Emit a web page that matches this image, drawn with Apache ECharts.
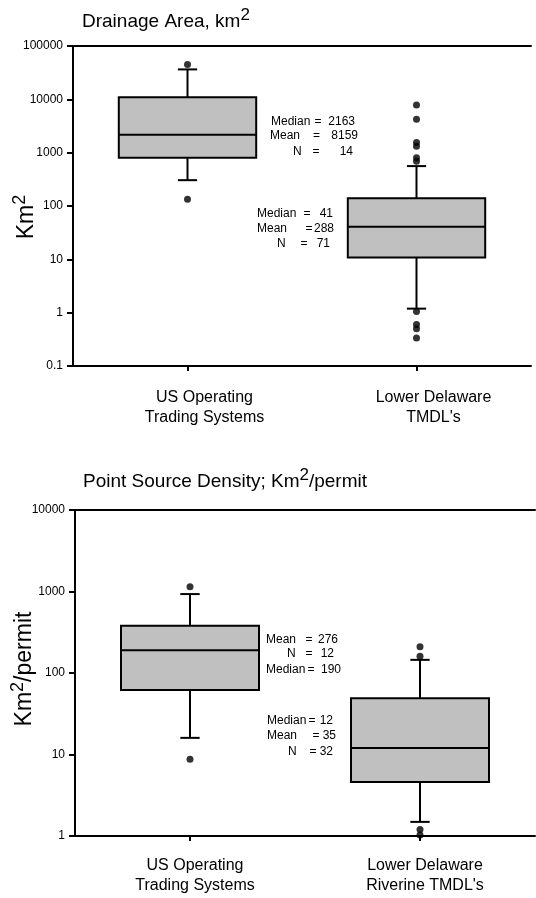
<!DOCTYPE html>
<html><head><meta charset="utf-8">
<script src="https://cdn.jsdelivr.net/npm/echarts@6/dist/echarts.min.js"></script>
<style>html,body{margin:0;padding:0;background:#fff}#c{width:536px;height:898px}</style>
</head><body><div id="c"></div>
<script>
// ---------- data ----------
const categoriesTop = ['US Operating\nTrading Systems', "Lower Delaware\nTMDL's"];
const categoriesBottom = ['US Operating\nTrading Systems', "Lower Delaware\nRiverine TMDL's"];
// box rows: [lower whisker, Q1, median, Q3, upper whisker]
const drainageUS = [305, 800, 2163, 11000, 36400];
const drainageDE = [1.19, 10.8, 41, 140, 560];
const drainageOutliersUS = [45000, 134];
const drainageOutliersDE = [7800, 4250, 1550, 1320, 800, 690, 1.05, 0.6, 0.5, 0.335];
const densityUS = [16, 62, 190, 380, 930];
const densityDE = [1.49, 4.6, 12, 49, 145];
const densityOutliersUS = [1145, 8.75];
const densityOutliersDE = [210, 160, 1.2, 1.03];
const drainageTicks = ['0.1', '1', '10', '100', '1000', '10000', '100000'];
const densityTicks = ['1', '10', '100', '1000', '10000'];
const drainageStatsUS = [['Median', '2163'], ['Mean', '8159'], ['N', '14']];
const drainageStatsDE = [['Median', '41'], ['Mean', '288'], ['N', '71']];
const densityStatsUS = [['Mean', '276'], ['N', '12'], ['Median', '190']];
const densityStatsDE = [['Median', '12'], ['Mean', '35'], ['N', '32']];

// ---------- layout ----------
const FONT = '"Liberation Sans", Arial, sans-serif';
const statLayout = [
  [{lx: 271, ex: 318, vx: 355, y: 122}, {lx: 270, ex: 316.5, vx: 358, y: 136}, {lx: 293, ex: 316, vx: 353, y: 151.5}],
  [{lx: 257, ex: 307, vx: 333, y: 213.5}, {lx: 257, ex: 309, vx: 334, y: 229}, {lx: 277, ex: 304, vx: 330, y: 244}],
  [{lx: 266, ex: 309, vx: 338, y: 639.5}, {lx: 287, ex: 309, vx: 334, y: 653.5}, {lx: 266, ex: 311, vx: 341, y: 669.5}],
  [{lx: 267, ex: 312, vx: 333, y: 721}, {lx: 267, ex: 316, vx: 336, y: 735.5}, {lx: 288, ex: 313, vx: 333, y: 752}]
];

function boxRow(idx, arr) { return [idx].concat(arr); }

function renderBox(params, api) {
  const cat = api.value(0);
  const lo = api.value(1), q1 = api.value(2), med = api.value(3), q3 = api.value(4), hi = api.value(5);
  const band = api.coord([1, med])[0] - api.coord([0, med])[0];
  const cx = api.coord([cat, med])[0];
  const bw = band * 0.6, cap = band * 0.084;
  const yLo = api.coord([cat, lo])[1], yQ1 = api.coord([cat, q1])[1], yMed = api.coord([cat, med])[1];
  const yQ3 = api.coord([cat, q3])[1], yHi = api.coord([cat, hi])[1];
  const ls = {stroke: '#000', lineWidth: 2};
  return {
    type: 'group',
    children: [
      {type: 'line', shape: {x1: cx, y1: yQ1, x2: cx, y2: yLo}, style: ls},
      {type: 'line', shape: {x1: cx - cap / 2, y1: yLo, x2: cx + cap / 2, y2: yLo}, style: ls},
      {type: 'line', shape: {x1: cx, y1: yQ3, x2: cx, y2: yHi}, style: ls},
      {type: 'line', shape: {x1: cx - cap / 2, y1: yHi, x2: cx + cap / 2, y2: yHi}, style: ls},
      {type: 'rect', shape: {x: cx - bw / 2, y: yQ3, width: bw, height: yQ1 - yQ3},
        style: {fill: '#c0c0c0', stroke: '#000', lineWidth: 2}},
      {type: 'line', shape: {x1: cx - bw / 2, y1: yMed, x2: cx + bw / 2, y2: yMed}, style: ls}
    ]
  };
}

function outlierData(idx, arr) { return arr.map(v => [idx, v]); }

function statGraphics(stats, layout) {
  const out = [];
  stats.forEach((s, i) => {
    const L = layout[i];
    const base = {font: '12px ' + FONT, fill: '#000', verticalAlign: 'middle'};
    out.push({type: 'text', style: Object.assign({text: s[0], x: L.lx, y: L.y, align: 'left'}, base)});
    out.push({type: 'text', style: Object.assign({text: '=', x: L.ex, y: L.y, align: 'center'}, base)});
    out.push({type: 'text', style: Object.assign({text: s[1], x: L.vx, y: L.y, align: 'right'}, base)});
  });
  return out;
}

function yAxisCfg(gridIndex, min, max, ticks) {
  const minExp = Math.round(Math.log10(min));
  return {
    type: 'log', logBase: 10, gridIndex, min, max,
    axisLine: {show: true, lineStyle: {color: '#000', width: 2}},
    axisTick: {show: true, length: 6, lineStyle: {color: '#000', width: 2}},
    axisLabel: {fontFamily: FONT, fontSize: 12, color: '#000', margin: 10,
      formatter: v => ticks[Math.round(Math.log10(v)) - minExp]},
    splitLine: {show: false}, minorTick: {show: false}
  };
}

function xAxisBottom(gridIndex, cats, pad, margin) {
  return {
    type: 'category', gridIndex, data: cats, position: 'bottom',
    axisLine: {show: true, onZero: false, lineStyle: {color: '#000', width: 2}},
    axisTick: {show: true, alignWithLabel: true, length: 5, lineStyle: {color: '#000', width: 2}},
    axisLabel: {fontFamily: FONT, fontSize: 16, lineHeight: 20, color: '#000', margin, padding: [0, 0, 0, pad]},
    splitLine: {show: false}
  };
}
function xAxisTop(gridIndex, cats) {
  return {
    type: 'category', gridIndex, data: cats, position: 'top',
    axisLine: {show: true, onZero: false, lineStyle: {color: '#000', width: 2}},
    axisTick: {show: false}, axisLabel: {show: false}, splitLine: {show: false}
  };
}

const chart = echarts.init(document.getElementById('c'), null, {renderer: 'canvas'});
const option = {
  backgroundColor: '#fff',
  animation: false,
  grid: [
    {left: 73, top: 46, width: 458, height: 320},
    {left: 75, top: 510, width: 460, height: 326}
  ],
  xAxis: [
    xAxisBottom(0, categoriesTop, 34, 22),
    xAxisTop(0, categoriesTop),
    xAxisBottom(1, categoriesBottom, 10, 20),
    xAxisTop(1, categoriesBottom)
  ],
  yAxis: [
    yAxisCfg(0, 0.1, 100000, drainageTicks),
    yAxisCfg(1, 1, 10000, densityTicks)
  ],
  series: [
    {type: 'custom', xAxisIndex: 0, yAxisIndex: 0, renderItem: renderBox,
      encode: {x: 0, y: [1, 2, 3, 4, 5]},
      data: [boxRow(0, drainageUS), boxRow(1, drainageDE)], z: 2},
    {type: 'scatter', xAxisIndex: 0, yAxisIndex: 0, symbol: 'circle', symbolSize: 7,
      itemStyle: {color: '#000'}, z: 3,
      data: outlierData(0, drainageOutliersUS).concat(outlierData(1, drainageOutliersDE))},
    {type: 'custom', xAxisIndex: 2, yAxisIndex: 1, renderItem: renderBox,
      encode: {x: 0, y: [1, 2, 3, 4, 5]},
      data: [boxRow(0, densityUS), boxRow(1, densityDE)], z: 2},
    {type: 'scatter', xAxisIndex: 2, yAxisIndex: 1, symbol: 'circle', symbolSize: 7,
      itemStyle: {color: '#000'}, z: 3,
      data: outlierData(0, densityOutliersUS).concat(outlierData(1, densityOutliersDE))}
  ],
  graphic: [
    {type: 'text', style: {text: '{a|Drainage Area, km}{s|2}', x: 82, y: 22, verticalAlign: 'middle',
      rich: {a: {fontFamily: FONT, fontSize: 19, lineHeight: 28, fill: '#000'},
             s: {fontFamily: FONT, fontSize: 17, lineHeight: 16, padding: [0, 0, 14, 0], fill: '#000'}}}},
    {type: 'text', style: {text: '{a|Point Source Density; Km}{s|2}{a|/permit}', x: 83, y: 482, verticalAlign: 'middle',
      rich: {a: {fontFamily: FONT, fontSize: 19, lineHeight: 28, fill: '#000'},
             s: {fontFamily: FONT, fontSize: 17, lineHeight: 16, padding: [0, 0, 14, 0], fill: '#000'}}}},
    {type: 'text', x: 27, y: 217, rotation: Math.PI / 2,
      style: {text: '{a|Km}{s|2}', x: 0, y: 0, align: 'center', verticalAlign: 'middle',
      rich: {a: {fontFamily: FONT, fontSize: 23, lineHeight: 30, fill: '#000'},
             s: {fontFamily: FONT, fontSize: 18, lineHeight: 16, padding: [0, 0, 14, 0], fill: '#000'}}}},
    {type: 'text', x: 25, y: 669, rotation: Math.PI / 2,
      style: {text: '{a|Km}{s|2}{a|/permit}', x: 0, y: 0, align: 'center', verticalAlign: 'middle',
      rich: {a: {fontFamily: FONT, fontSize: 23, lineHeight: 30, fill: '#000'},
             s: {fontFamily: FONT, fontSize: 18, lineHeight: 16, padding: [0, 0, 14, 0], fill: '#000'}}}}
  ].concat(statGraphics(drainageStatsUS, statLayout[0]))
   .concat(statGraphics(drainageStatsDE, statLayout[1]))
   .concat(statGraphics(densityStatsUS, statLayout[2]))
   .concat(statGraphics(densityStatsDE, statLayout[3]))
};
chart.setOption(option);
</script></body></html>
